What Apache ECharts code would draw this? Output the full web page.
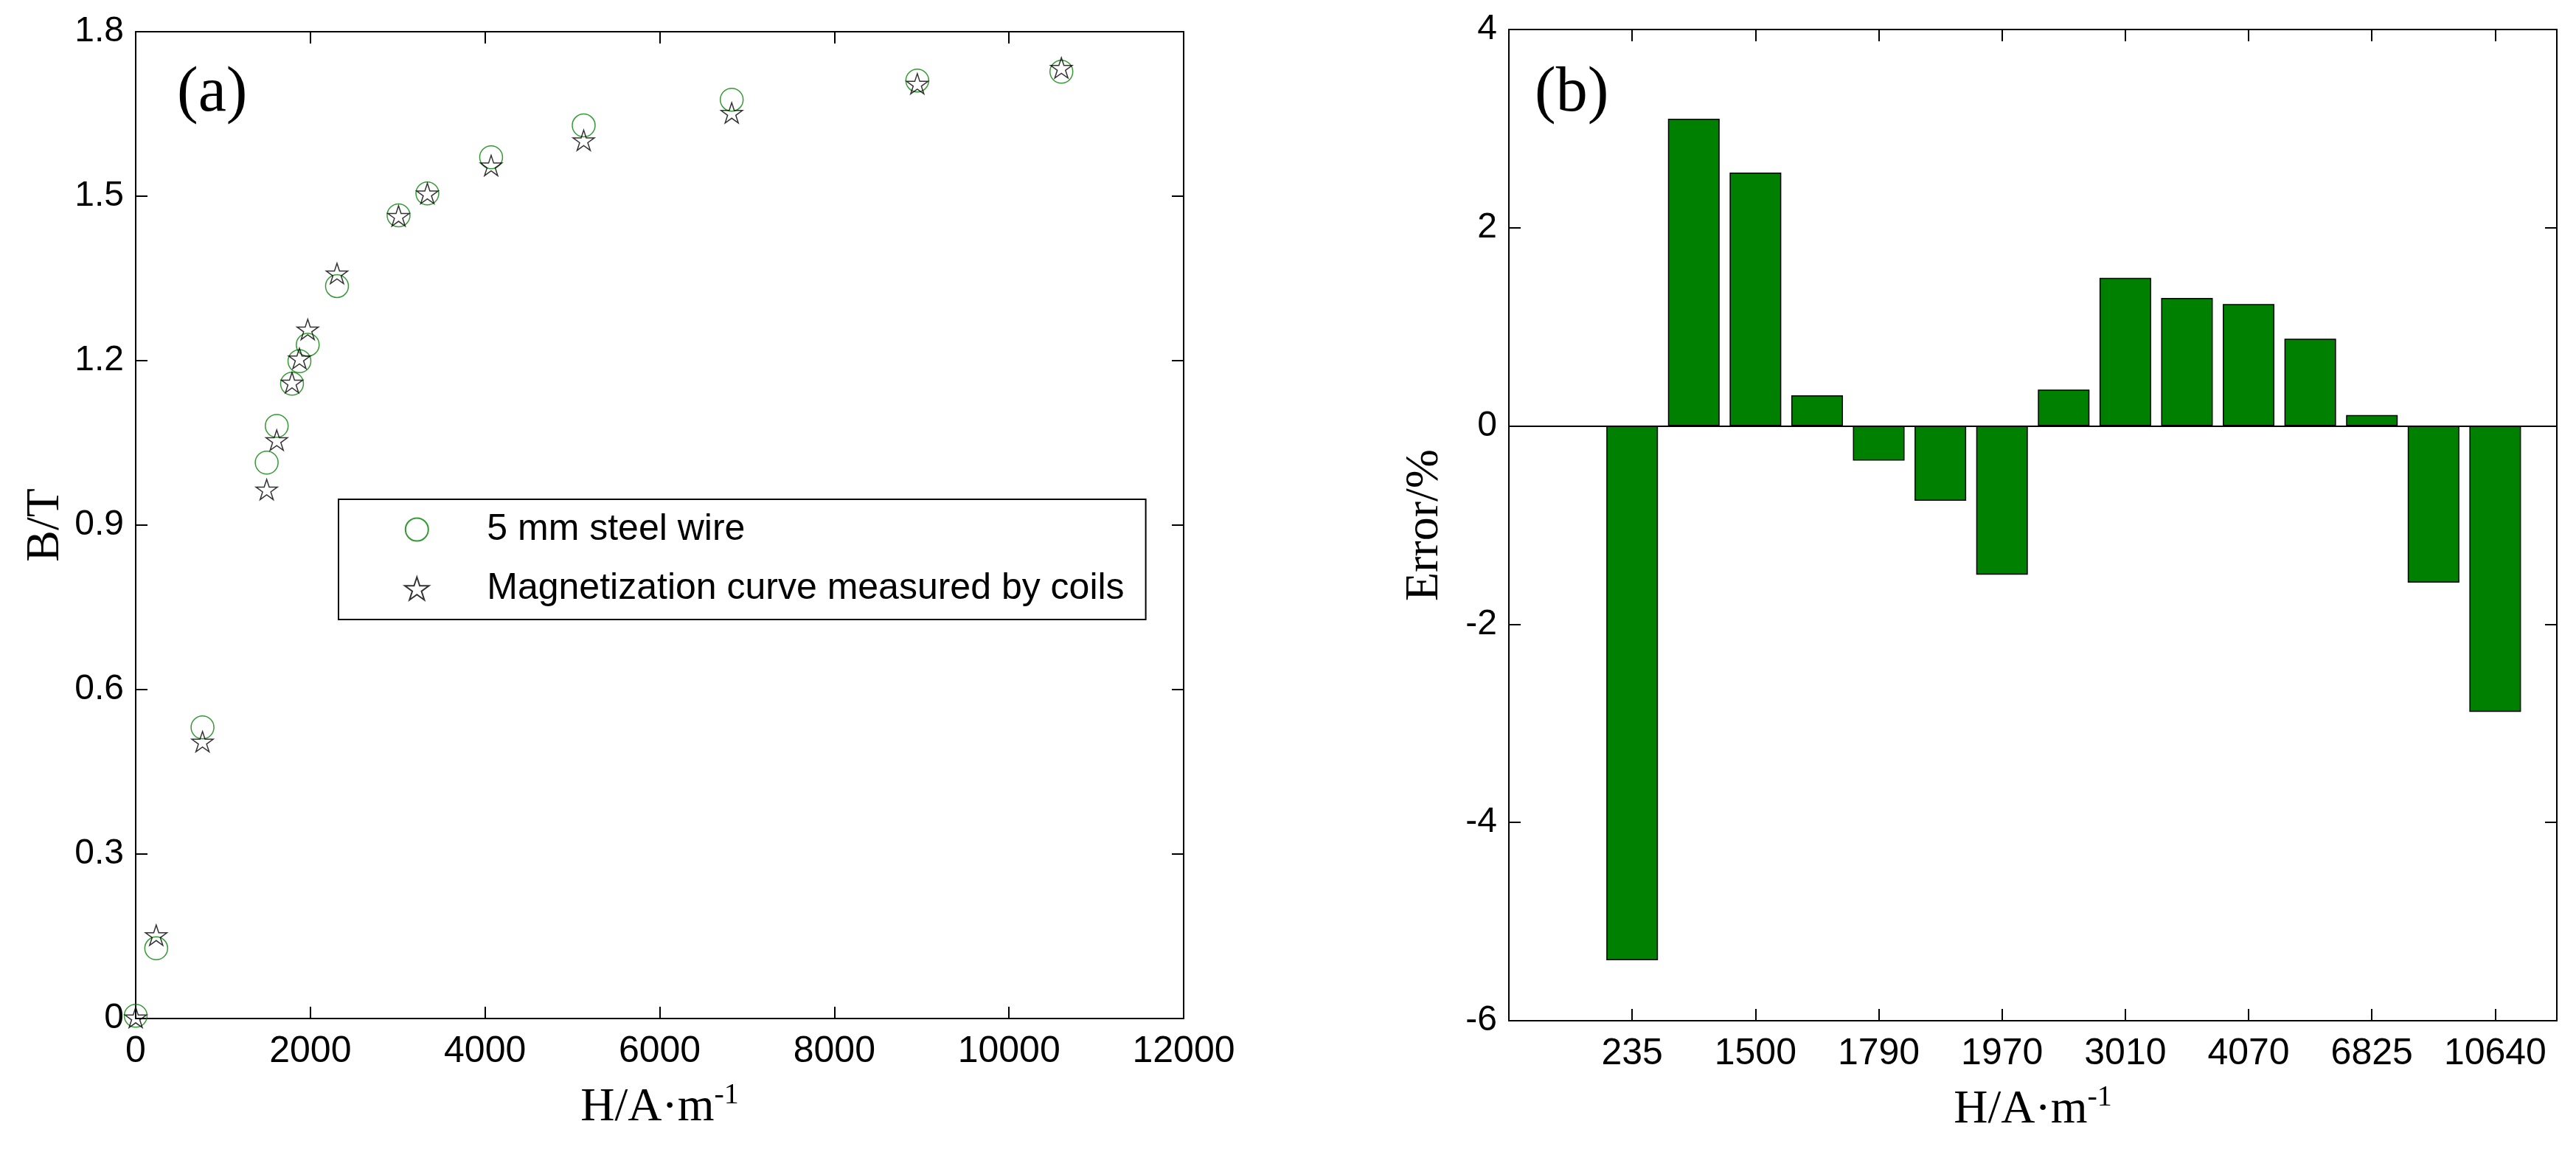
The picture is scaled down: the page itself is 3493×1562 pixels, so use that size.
<!DOCTYPE html>
<html>
<head>
<meta charset="utf-8">
<title>Magnetization curve and error</title>
<script src="https://cdn.jsdelivr.net/npm/echarts@6/dist/echarts.min.js"></script>
<style>
html, body { margin: 0; padding: 0; background: #fff; }
#main { width: 3493px; height: 1562px; }
</style>
</head>
<body>
<div id="main"></div>
<script>
// (a) magnetization curve, H in A/m, B in T
var hField = [0, 235, 765, 1500, 1615, 1790, 1875, 1970, 2305, 3010, 3340, 4070, 5130, 6825, 8950, 10600];
var bWire = [0.005, 0.128, 0.531, 1.014, 1.081, 1.158, 1.199, 1.229, 1.336, 1.465, 1.505, 1.571, 1.629, 1.676, 1.711, 1.727];
var bCoil = [0.002, 0.152, 0.505, 0.965, 1.055, 1.160, 1.204, 1.257, 1.359, 1.464, 1.505, 1.556, 1.602, 1.652, 1.705, 1.734];

// (b) error at each H step, %
var hSteps = ['235', '765', '1500', '1615', '1790', '1875', '1970', '2305', '3010', '3340', '4070', '5130', '6825', '8950', '10640'];
var errorPct = [-5.39, 3.10, 2.556, 0.31, -0.349, -0.755, -1.50, 0.368, 1.494, 1.291, 1.230, 0.881, 0.111, -1.58, -2.884];

var seriesNames = ['5 mm steel wire', 'Magnetization curve measured by coils'];

// pentagram marker like matlab 'p'
function starPath() {
    var pts = [];
    for (var i = 0; i < 10; i++) {
        var r = i % 2 === 0 ? 1 : 0.382;
        var a = -Math.PI / 2 + i * Math.PI / 5;
        pts.push((r * Math.cos(a)).toFixed(4) + ',' + (r * Math.sin(a)).toFixed(4));
    }
    return 'path://M' + pts.join('L') + 'Z';
}

var tickFont = 'Liberation Sans';
var nameFont = 'Liberation Serif';

function axisBase(extra) {
    var o = {
        axisLine: { onZero: false, lineStyle: { color: '#000', width: 2 } },
        axisTick: { inside: true, length: 16, lineStyle: { color: '#000', width: 2 } },
        splitLine: { show: false },
        axisLabel: { color: '#000', fontFamily: tickFont, fontSize: 48, margin: 16 }
    };
    for (var k in extra) o[k] = extra[k];
    return o;
}

var axisName = {
    color: '#000',
    fontFamily: nameFont,
    fontSize: 64,
    rich: {
        m: { fontFamily: nameFont, fontSize: 64, color: '#000' },
        s: { fontFamily: nameFont, fontSize: 40, color: '#000', padding: [0, 0, 34, 0] }
    }
};

var chart = echarts.init(document.getElementById('main'));

var option = {
    backgroundColor: '#fff',
    animation: false,
    grid: [
        { left: 184, top: 43, width: 1421, height: 1338 },
        { left: 2046, top: 40, width: 1421, height: 1344 }
    ],
    legend: {
        data: seriesNames,
        orient: 'vertical',
        left: 459,
        top: 677,
        padding: [16, 29, 17, 89],
        itemWidth: 180,
        itemHeight: 31,
        itemGap: 30,
        borderColor: '#000',
        borderWidth: 2,
        selectedMode: false,
        textStyle: { color: '#000', fontFamily: tickFont, fontSize: 50, lineHeight: 48 }
    },
    graphic: [
        { type: 'text', left: 240, top: 84, style: { text: '(a)', font: '86px "Liberation Serif"', fill: '#000' } },
        { type: 'text', left: 2081, top: 84, style: { text: '(b)', font: '86px "Liberation Serif"', fill: '#000' } }
    ],
    xAxis: [
        axisBase({
            type: 'value', gridIndex: 0, min: 0, max: 12000, interval: 2000,
            axisLabel: {
                color: '#000', fontFamily: tickFont, fontSize: 50, margin: 20,
                formatter: function (v) { return String(v); }
            },
            name: '{m|H/A·m}{s|-1}', nameLocation: 'middle', nameGap: 84, nameTextStyle: axisName
        }),
        axisBase({
            type: 'value', gridIndex: 0, position: 'top', min: 0, max: 12000, interval: 2000,
            axisLabel: { show: false }
        }),
        axisBase({
            type: 'value', gridIndex: 1, min: 0, max: 17, interval: 2,
            axisLabel: {
                color: '#000', fontFamily: tickFont, fontSize: 50, margin: 20,
                formatter: function (v) {
                    var i = v - 2;
                    return (i >= 0 && i % 2 === 0 && i < hSteps.length) ? hSteps[i] : '';
                }
            },
            name: '{m|H/A·m}{s|-1}', nameLocation: 'middle', nameGap: 84, nameTextStyle: axisName
        }),
        axisBase({
            type: 'value', gridIndex: 1, position: 'top', min: 0, max: 17, interval: 2,
            axisLabel: { show: false }
        })
    ],
    yAxis: [
        axisBase({
            type: 'value', gridIndex: 0, min: 0, max: 1.8, interval: 0.3,
            name: 'B/T', nameLocation: 'middle', nameGap: 90, nameTextStyle: axisName
        }),
        axisBase({
            type: 'value', gridIndex: 0, position: 'right', min: 0, max: 1.8, interval: 0.3,
            axisLabel: { show: false }
        }),
        axisBase({
            type: 'value', gridIndex: 1, min: -6, max: 4, interval: 2,
            name: 'Error/%', nameLocation: 'middle', nameGap: 82, nameTextStyle: axisName
        }),
        axisBase({
            type: 'value', gridIndex: 1, position: 'right', min: -6, max: 4, interval: 2,
            axisLabel: { show: false }
        })
    ],
    series: [
        {
            name: seriesNames[0],
            type: 'scatter',
            xAxisIndex: 0, yAxisIndex: 0,
            symbol: 'circle',
            symbolSize: 31,
            itemStyle: { color: 'rgba(0,0,0,0)', borderColor: '#008000', borderWidth: 1.5 },
            data: hField.map(function (h, i) { return [h, bWire[i]]; })
        },
        {
            name: seriesNames[1],
            type: 'scatter',
            xAxisIndex: 0, yAxisIndex: 0,
            symbol: starPath(),
            symbolKeepAspect: true,
            symbolSize: 29,
            itemStyle: { color: 'rgba(0,0,0,0)', borderColor: '#000', borderWidth: 1.5 },
            data: hField.map(function (h, i) { return [h, bCoil[i]]; })
        },
        {
            name: 'Error',
            type: 'bar',
            xAxisIndex: 2, yAxisIndex: 2,
            barWidth: 70,
            itemStyle: { color: '#008000', borderColor: '#000', borderWidth: 1.5 },
            data: errorPct.map(function (v, i) { return [i + 2, v]; }),
            markLine: {
                silent: true,
                symbol: 'none',
                label: { show: false },
                lineStyle: { color: '#000', type: 'solid', width: 2 },
                data: [{ yAxis: 0 }]
            }
        }
    ]
};

chart.setOption(option);
</script>
</body>
</html>
